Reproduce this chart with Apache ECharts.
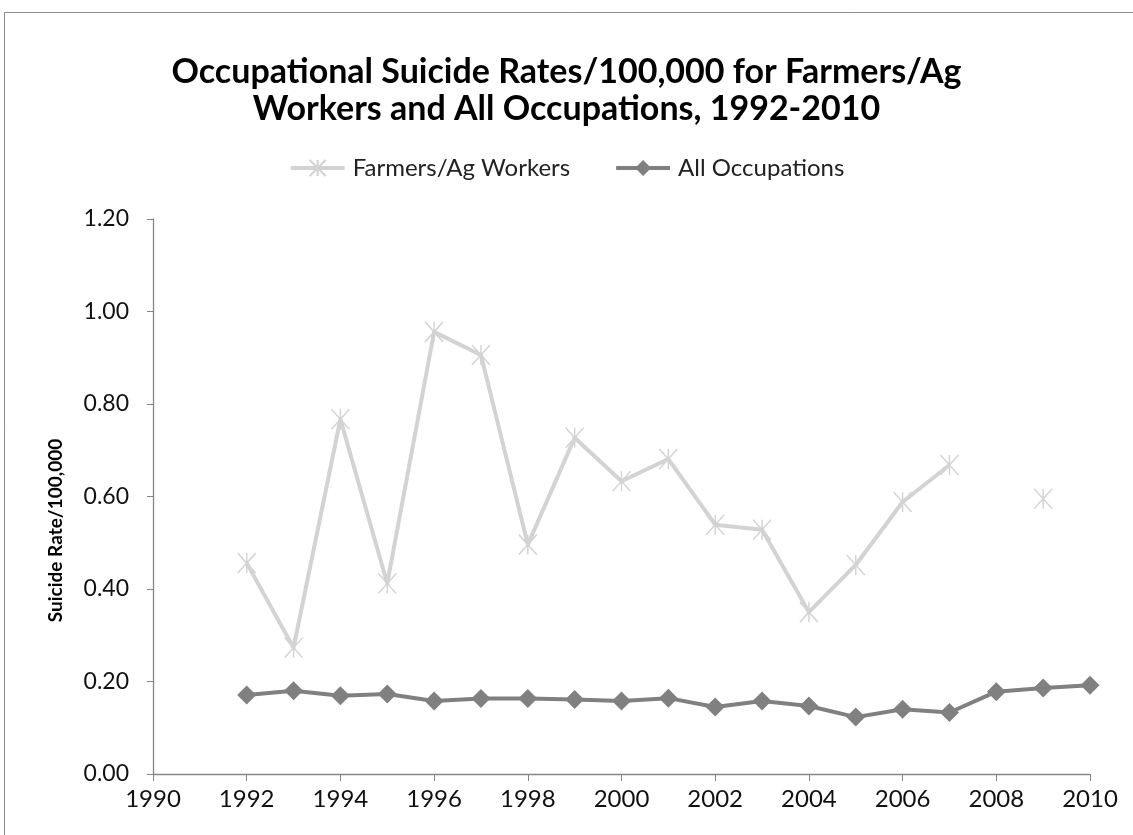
<!DOCTYPE html>
<html>
<head>
<meta charset="utf-8">
<script src="https://cdn.jsdelivr.net/npm/echarts@6/dist/echarts.min.js"></script>
<style>
  html, body { margin: 0; padding: 0; background: #ffffff; }
  #chart { width: 1133px; height: 835px; }
</style>
</head>
<body>
<div id="chart"></div>
<script>
// Years covered by the survey
const years = [1992, 1993, 1994, 1995, 1996, 1997, 1998, 1999, 2000, 2001,
               2002, 2003, 2004, 2005, 2006, 2007, 2008, 2009, 2010];
// Suicide rate per 100,000 — farmers / agricultural workers (no value for 2008, 2010)
const farmersRates = [0.456, 0.273, 0.767, 0.412, 0.956, 0.906, 0.496, 0.727, 0.633, 0.681,
                      0.539, 0.528, 0.350, 0.452, 0.588, 0.668, null, 0.595, null];
// Suicide rate per 100,000 — all occupations
const allOccRates = [0.171, 0.180, 0.169, 0.173, 0.158, 0.163, 0.163, 0.161, 0.158, 0.164,
                     0.145, 0.158, 0.147, 0.123, 0.140, 0.133, 0.178, 0.186, 0.192];
const seriesNames = ['Farmers/Ag Workers', 'All Occupations'];
const titleLines = ['Occupational Suicide Rates/100,000 for Farmers/Ag',
                    'Workers and All Occupations, 1992-2010'];
const yAxisTitle = 'Suicide Rate/100,000';

const FONT = 'Lato, "Open Sans", sans-serif';
const FARM_GREY = '#d3d3d3';
const ALL_GREY = '#808080';
// six-armed star marker (X with a vertical stroke)
const asterisk = 'path://M0,0L20,22M20,0L0,22M10,0L10,22';

const pairs = vals => years.map((y, i) => [y, vals[i]]);

const chart = echarts.init(document.getElementById('chart'), null, { renderer: 'canvas' });
chart.setOption({
  backgroundColor: '#ffffff',
  animation: false,
  graphic: [{
    type: 'rect',
    shape: { x: 4.5, y: 12.5, width: 1140, height: 840 },
    style: { fill: 'none', stroke: '#8c8c8c', lineWidth: 1 },
    silent: true
  }],
  title: {
    text: titleLines.join('\n'),
    left: 'center',
    top: 49,
    textStyle: { fontFamily: FONT, fontSize: 34, fontWeight: 'bold', color: '#000', lineHeight: 37 }
  },
  legend: {
    top: 151,
    left: 'center',
    itemWidth: 54,
    itemHeight: 20,
    itemGap: 44,
    textStyle: { fontFamily: FONT, fontSize: 24, color: '#222', padding: [0, 0, 0, 3] },
    data: [
      { name: seriesNames[0], lineStyle: { width: 4, color: FARM_GREY } },
      { name: seriesNames[1], lineStyle: { width: 4, color: ALL_GREY } }
    ]
  },
  grid: { left: 153, right: 43, top: 219, bottom: 61 },
  xAxis: {
    type: 'value',
    min: 1990,
    max: 2010,
    interval: 2,
    axisLine: { lineStyle: { color: '#868686', width: 1.3 } },
    axisTick: { show: true, length: 7, lineStyle: { color: '#868686' } },
    axisLabel: { fontFamily: FONT, fontSize: 24, color: '#111', margin: 13,
                 formatter: v => String(v) },
    splitLine: { show: false }
  },
  yAxis: {
    type: 'value',
    min: 0,
    max: 1.2,
    interval: 0.2,
    name: yAxisTitle,
    nameLocation: 'middle',
    nameGap: 88,
    nameTextStyle: { fontFamily: FONT, fontSize: 19, fontWeight: 'bold', color: '#000', padding: [0, 68, 0, 0] },
    axisLine: { show: true, lineStyle: { color: '#868686', width: 1.3 } },
    axisTick: { show: true, length: 6, lineStyle: { color: '#868686' } },
    axisLabel: { fontFamily: FONT, fontSize: 23, color: '#111', margin: 24,
                 formatter: v => v.toFixed(2) },
    splitLine: { show: false }
  },
  series: [
    {
      name: seriesNames[0],
      type: 'line',
      data: pairs(farmersRates),
      connectNulls: false,
      symbol: asterisk,
      symbolSize: [18, 20],
      lineStyle: { color: FARM_GREY, width: 4 },
      itemStyle: { color: FARM_GREY, borderColor: FARM_GREY, borderWidth: 1.5 },
      z: 2
    },
    {
      name: seriesNames[1],
      type: 'line',
      data: pairs(allOccRates),
      symbol: 'diamond',
      symbolSize: 19,
      lineStyle: { color: ALL_GREY, width: 4 },
      itemStyle: { color: ALL_GREY },
      z: 3
    }
  ]
});
</script>
</body>
</html>
